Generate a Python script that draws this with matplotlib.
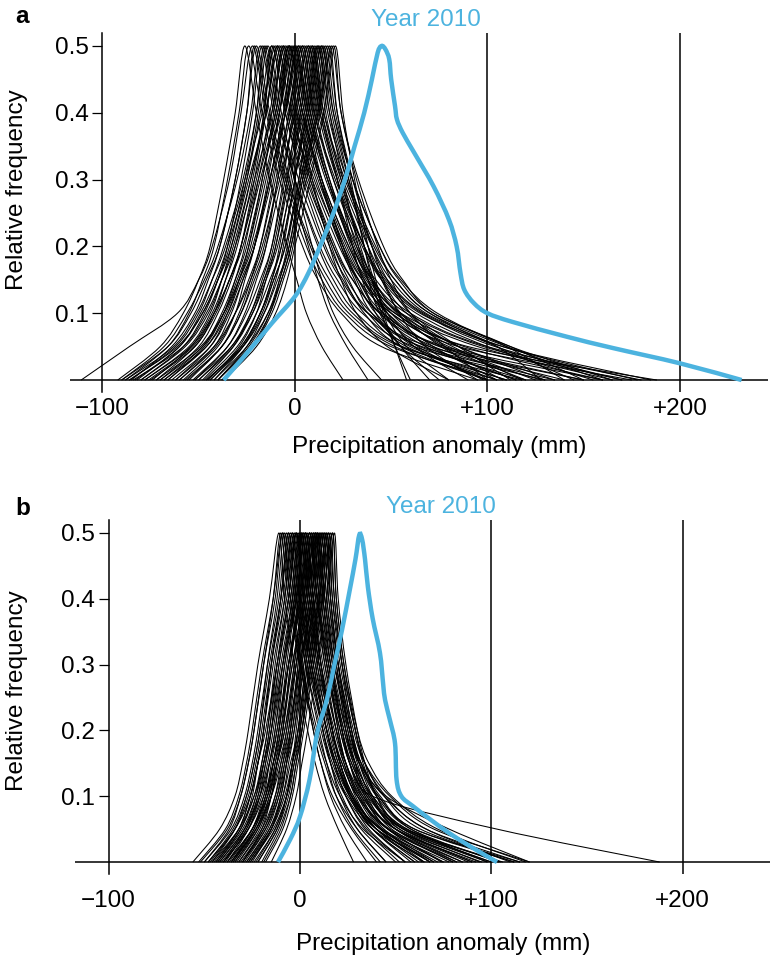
import matplotlib.pyplot as plt
from matplotlib.path import Path
from matplotlib.patches import PathPatch

plt.rcParams['font.family'] = ['Liberation Sans', 'DejaVu Sans']
plt.rcParams['font.size'] = 17.5

# relative frequency levels shared by every mountain curve
levels = [0, 0.05, 0.1, 0.15, 0.2, 0.3, 0.4, 0.5]

# panel a: left branch x at levels 0..0.5, right branch x at 0.4..0
a_left = [
    [-92, -70, -58, -50, -44, -37, -31, -26], [-88, -66, -55, -48, -42, -35, -29, -24],
    [-111, -86, -61, -50, -43, -34, -28, -22], [-85, -64, -52, -45, -39, -31, -25, -20],
    [-90, -68, -56, -47, -40, -30, -23, -18], [-80, -58, -47, -40, -35, -28, -22, -17],
    [-86, -62, -50, -43, -37, -27, -20, -15], [-78, -55, -44, -38, -33, -25, -19, -14],
    [-83, -60, -49, -41, -35, -25, -18, -12], [-75, -52, -42, -36, -31, -23, -16, -11],
    [-88, -63, -51, -43, -36, -26, -17, -10], [-70, -50, -40, -33, -28, -21, -15, -9],
    [-80, -57, -45, -38, -32, -23, -15, -8], [-72, -52, -41, -34, -28, -20, -13, -7],
    [-66, -47, -37, -31, -26, -19, -12, -6], [-84, -58, -46, -38, -31, -21, -12, -5],
    [-62, -44, -35, -29, -24, -17, -10, -4], [-76, -53, -42, -34, -28, -19, -10, -3],
    [-58, -40, -31, -26, -21, -14, -8, -2], [-70, -48, -37, -30, -24, -16, -8, -1],
    [-64, -44, -34, -27, -21, -13, -6, 0], [-55, -38, -29, -23, -18, -11, -5, 1],
    [-68, -46, -35, -28, -21, -12, -5, 2], [-52, -35, -26, -20, -15, -9, -3, 3],
    [-60, -41, -31, -24, -18, -10, -3, 4], [-48, -32, -23, -17, -12, -6, -1, 5],
    [-57, -38, -28, -21, -15, -7, 0, 6], [-45, -29, -20, -15, -10, -4, 1, 7],
    [-53, -35, -25, -18, -12, -5, 2, 8], [-42, -27, -18, -12, -8, -2, 3, 9],
    [-50, -33, -23, -16, -10, -3, 4, 10], [-40, -25, -16, -10, -6, 0, 5, 11],
    [-47, -30, -20, -13, -7, 0, 6, 12], [-38, -22, -13, -8, -4, 2, 7, 13],
    [-44, -27, -17, -11, -5, 2, 8, 14], [-40, -24, -14, -8, -3, 3, 9, 15],
    [-46, -28, -18, -11, -5, 3, 10, 16], [-38, -22, -12, -6, -1, 5, 12, 18],
    [-42, -25, -14, -7, -2, 6, 13, 19], [-37, -20, -10, -4, 0, 8, 15, 21],
    [-82, -60, -48, -40, -34, -26, -20, -16], [-74, -54, -43, -36, -30, -22, -16, -12],
    [-86, -61, -48, -40, -33, -24, -15, -9], [-68, -48, -38, -31, -25, -17, -11, -6],
    [-78, -54, -42, -34, -27, -18, -9, -3], [-60, -42, -33, -27, -21, -13, -6, 0],
    [-72, -49, -37, -29, -22, -13, -5, 2], [-56, -38, -28, -22, -16, -9, -2, 4],
    [-62, -42, -31, -23, -17, -8, 0, 7], [-50, -32, -22, -16, -11, -4, 3, 9],
    [-44, -28, -18, -12, -7, 0, 6, 12], [-52, -33, -22, -15, -9, -1, 7, 14],
    [-40, -23, -13, -7, -2, 4, 11, 17], [-46, -27, -16, -9, -3, 4, 12, 20],
    [-90, -66, -54, -46, -39, -31, -25, -21], [-66, -46, -36, -29, -23, -15, -8, -3],
]
a_right = [
    [-20, -13, -4, 1, 6, 14, 25], [-17, -8, 4, 12, 24, 45, 95],
    [-15, -6, 6, 14, 26, 50, 105], [-13, -4, 9, 18, 30, 55, 118],
    [-11, -3, 7, 12, 18, 27, 38], [-10, 0, 13, 22, 35, 62, 130],
    [-8, 2, 15, 24, 38, 70, 150], [-7, 0, 9, 14, 20, 30, 45],
    [-5, 5, 18, 27, 40, 65, 120], [-4, 6, 20, 30, 45, 78, 160],
    [-3, 7, 19, 26, 36, 55, 100], [-2, 9, 23, 33, 50, 85, 175],
    [-1, 8, 20, 28, 38, 58, 105], [0, 10, 25, 35, 52, 90, 188],
    [1, 9, 18, 24, 32, 48, 80], [2, 12, 26, 35, 48, 75, 140],
    [3, 13, 27, 36, 50, 80, 125], [4, 14, 28, 38, 55, 95, 165],
    [5, 13, 24, 31, 40, 60, 110], [6, 16, 30, 40, 58, 98, 170],
    [6, 14, 25, 32, 42, 62, 100], [7, 17, 32, 42, 60, 100, 180],
    [8, 18, 31, 40, 55, 85, 135], [9, 18, 30, 38, 48, 70, 115],
    [10, 20, 35, 45, 63, 100, 155], [11, 20, 33, 41, 53, 78, 120],
    [12, 22, 36, 46, 65, 105, 145], [13, 22, 32, 40, 50, 72, 105],
    [14, 24, 38, 48, 67, 108, 185], [14, 22, 30, 35, 42, 55, 75],
    [15, 25, 40, 50, 68, 105, 128], [16, 24, 34, 40, 48, 62, 90],
    [17, 27, 42, 52, 70, 110, 160], [18, 25, 33, 38, 44, 55, 70],
    [19, 28, 40, 48, 60, 85, 112], [20, 28, 36, 41, 47, 58, 80],
    [21, 30, 44, 54, 72, 112, 150], [22, 29, 36, 40, 45, 52, 60],
    [24, 32, 43, 50, 60, 78, 100], [25, 31, 38, 42, 46, 52, 58],
    [-9, 0, 12, 20, 32, 56, 110], [-5, 4, 16, 25, 38, 66, 135],
    [-2, 8, 21, 30, 44, 72, 128], [1, 11, 24, 33, 46, 76, 150],
    [4, 13, 25, 33, 44, 68, 115], [7, 17, 30, 39, 54, 88, 160],
    [8, 17, 29, 36, 46, 64, 98], [10, 21, 36, 47, 66, 104, 170],
    [13, 23, 36, 45, 58, 85, 130], [15, 26, 41, 52, 70, 108, 178],
    [18, 27, 38, 45, 55, 76, 108], [20, 30, 44, 55, 74, 112, 165],
    [22, 30, 40, 46, 54, 68, 95], [24, 33, 46, 56, 72, 110, 140],
    [-14, -5, 8, 16, 28, 52, 100], [4, 14, 28, 37, 52, 82, 118],
]
a_year_x = [-37, -25, -12, 0, 7, 13, 20, 26, 31, 36, 40, 43, 45, 47, 49, 50, 52, 53,
            56, 62, 72, 80, 84, 86, 88, 93, 100, 113, 141, 165, 200, 232]
a_year_y = [0, 0.04, 0.085, 0.125, 0.16, 0.2, 0.25, 0.3, 0.35, 0.4, 0.45, 0.49, 0.5, 0.495,
            0.48, 0.45, 0.41, 0.39, 0.37, 0.34, 0.29, 0.24, 0.2, 0.16, 0.135, 0.115, 0.1,
            0.087, 0.065, 0.048, 0.025, 0]

# panel b
b_left = [
    [-56, -42, -34, -30, -27, -22, -16, -11], [-50, -37, -31, -27, -24, -19, -14, -10],
    [-53, -39, -32, -28, -25, -20, -14, -9], [-46, -34, -28, -24, -21, -17, -12, -8],
    [-50, -36, -29, -25, -22, -17, -11, -7], [-43, -31, -25, -22, -19, -15, -10, -6],
    [-48, -35, -28, -24, -21, -16, -10, -5], [-40, -29, -23, -20, -17, -13, -8, -4],
    [-45, -32, -26, -22, -19, -14, -8, -3], [-38, -27, -21, -18, -15, -11, -6, -2],
    [-44, -31, -24, -20, -17, -12, -6, -1], [-36, -25, -19, -16, -13, -9, -4, 0],
    [-42, -29, -22, -18, -15, -10, -4, 1], [-34, -23, -17, -14, -11, -7, -2, 2],
    [-40, -27, -20, -16, -13, -8, -2, 3], [-32, -21, -15, -12, -9, -5, 0, 4],
    [-38, -25, -18, -14, -11, -6, 0, 5], [-30, -19, -13, -10, -7, -3, 1, 6],
    [-36, -24, -17, -13, -9, -4, 2, 7], [-28, -17, -11, -8, -5, -1, 3, 8],
    [-34, -22, -15, -11, -7, -2, 4, 9], [-26, -15, -9, -6, -3, 1, 5, 10],
    [-32, -20, -13, -9, -5, 0, 6, 11], [-24, -13, -7, -4, -1, 3, 7, 12],
    [-30, -18, -11, -7, -3, 2, 8, 13], [-22, -12, -6, -3, 0, 4, 9, 14],
    [-28, -16, -9, -5, -1, 4, 10, 15], [-20, -11, -5, -2, 1, 6, 11, 16],
    [-26, -14, -7, -3, 1, 6, 12, 17], [-15, -7, -2, 1, 4, 9, 14, 18],
    [-48, -34, -26, -22, -18, -12, -6, -2], [-30, -20, -15, -12, -9, -5, -1, 1],
    [-46, -32, -24, -19, -15, -9, -2, 3], [-25, -15, -10, -7, -5, -1, 2, 6],
    [-40, -27, -19, -14, -10, -4, 3, 8], [-22, -12, -7, -4, -2, 2, 6, 10],
    [-36, -23, -15, -10, -6, 0, 7, 12], [-19, -10, -5, -2, 1, 5, 10, 14],
    [-42, -29, -21, -16, -12, -6, 1, 5], [-38, -25, -17, -12, -8, -2, 5, 9],
    [-52, -38, -31, -27, -24, -19, -13, -9], [-44, -32, -26, -22, -19, -15, -10, -6],
    [-47, -34, -27, -23, -20, -15, -9, -4], [-39, -28, -22, -19, -16, -12, -7, -2],
    [-43, -30, -23, -19, -16, -11, -5, 0], [-35, -24, -18, -15, -12, -8, -3, 1],
    [-41, -28, -21, -17, -14, -9, -3, 2], [-33, -22, -16, -13, -10, -6, -1, 3],
    [-37, -25, -18, -14, -11, -6, 0, 5], [-29, -18, -12, -9, -6, -2, 2, 7],
    [-35, -23, -16, -12, -8, -3, 3, 8], [-27, -16, -10, -7, -4, 0, 4, 9],
    [-31, -19, -12, -8, -4, 1, 6, 11], [-23, -13, -7, -4, -1, 3, 8, 13],
    [-27, -15, -8, -4, 0, 5, 10, 15], [-18, -9, -4, -1, 2, 7, 12, 17],
]
b_right = [
    [-8, -3, 4, 8, 13, 20, 28], [-6, 0, 8, 13, 19, 30, 45],
    [-5, 1, 9, 14, 21, 33, 55], [-4, 1, 7, 11, 16, 24, 35],
    [-3, 3, 11, 16, 24, 38, 65], [-2, 3, 10, 14, 19, 28, 42],
    [-1, 5, 13, 18, 26, 40, 70], [0, 5, 12, 16, 22, 32, 50],
    [1, 6, 14, 19, 27, 42, 75], [2, 6, 12, 16, 21, 30, 45],
    [3, 8, 16, 22, 30, 46, 80], [4, 8, 14, 18, 24, 34, 52],
    [5, 10, 18, 23, 31, 47, 85], [6, 10, 16, 20, 26, 36, 55],
    [7, 12, 19, 24, 32, 50, 90], [7, 11, 17, 21, 27, 38, 60],
    [8, 13, 21, 26, 35, 54, 100], [9, 13, 19, 23, 29, 40, 62],
    [10, 15, 22, 27, 36, 52, 95], [11, 15, 20, 24, 30, 42, 65],
    [12, 16, 23, 28, 37, 55, 105], [13, 17, 22, 26, 32, 44, 70],
    [14, 18, 25, 31, 44, 66, 110], [15, 19, 24, 28, 34, 46, 75],
    [16, 20, 27, 32, 42, 60, 115], [16, 20, 25, 29, 35, 48, 80],
    [17, 21, 28, 34, 47, 70, 120], [18, 22, 27, 31, 38, 50, 85],
    [19, 23, 30, 36, 48, 72, 118], [20, 24, 30, 34, 40, 52, 90],
    [2, 7, 14, 19, 26, 38, 60], [5, 9, 15, 20, 27, 40, 68],
    [7, 11, 17, 21, 28, 42, 72], [9, 14, 21, 26, 34, 50, 88],
    [11, 16, 24, 29, 38, 56, 100], [13, 18, 26, 31, 40, 58, 104],
    [15, 20, 27, 32, 41, 58, 98], [17, 22, 29, 34, 44, 63, 112],
    [9, 15, 23, 29, 38, 103, 188], [13, 18, 26, 32, 45, 78, 120],
    [-5, 0, 7, 11, 17, 27, 40], [-2, 4, 12, 17, 25, 40, 68],
    [0, 6, 14, 19, 27, 43, 78], [2, 7, 14, 18, 24, 35, 55],
    [4, 9, 17, 22, 30, 46, 82], [5, 10, 17, 21, 28, 40, 64],
    [6, 11, 19, 24, 33, 50, 92], [7, 11, 17, 21, 27, 38, 58],
    [9, 14, 22, 27, 36, 54, 98], [10, 14, 20, 24, 31, 43, 68],
    [12, 17, 24, 29, 38, 56, 106], [12, 16, 22, 26, 33, 46, 74],
    [14, 19, 26, 31, 41, 60, 112], [16, 20, 26, 30, 37, 50, 82],
    [18, 22, 29, 34, 45, 66, 115], [19, 23, 29, 33, 40, 54, 94],
]
b_year_x = [-11.5, -5, 0, 5, 9, 14, 18, 22, 26, 29, 31, 32.5, 34, 35.5, 38, 41.8, 43.5,
            44.5, 47, 49.7, 50.5, 53, 59, 68, 78, 90, 103]
b_year_y = [0, 0.035, 0.069, 0.125, 0.196, 0.246, 0.3, 0.353, 0.413, 0.46, 0.497, 0.49,
            0.46, 0.418, 0.37, 0.318, 0.27, 0.246, 0.216, 0.18, 0.125, 0.1, 0.085, 0.065,
            0.044, 0.022, 0]

xtick_vals = [-100, 0, 100, 200]
xtick_text = ['\u2212100', '0', '+100', '+200']
ytick_vals = [0.1, 0.2, 0.3, 0.4, 0.5]
blue = '#4cb3df'

fig = plt.figure(figsize=(7.7, 9.6), dpi=100)
ax_a = fig.add_axes([70 / 770, (960 - 393.4) / 960, 698 / 770, 360.8 / 960])
ax_b = fig.add_axes([75 / 770, (960 - 875.2) / 960, 695 / 770, 355.4 / 960])


def smooth_path(xs, ys):
    # catmull-rom style bezier that passes through every read point
    pts = list(zip(xs, ys))
    n = len(pts)
    verts = [pts[0]]
    codes = [Path.MOVETO]
    for i in range(n - 1):
        p0 = pts[max(i - 1, 0)]
        p1 = pts[i]
        p2 = pts[i + 1]
        p3 = pts[min(i + 2, n - 1)]
        c1 = (p1[0] + (p2[0] - p0[0]) / 6, p1[1] + (p2[1] - p0[1]) / 6)
        c2 = (p2[0] - (p3[0] - p1[0]) / 6, p2[1] - (p3[1] - p1[1]) / 6)
        verts += [c1, c2, p2]
        codes += [Path.CURVE4] * 3
    return Path(verts, codes)


def draw(ax, left, right, yx, yy, xlim, tick_y, label_y):
    for lx, rx in zip(left, right):
        p = smooth_path(list(lx) + list(rx), levels + levels[-2::-1])
        ax.add_patch(PathPatch(p, fill=False, edgecolor='black', lw=0.75))
    ax.add_patch(PathPatch(smooth_path(yx, yy), fill=False, edgecolor=blue,
                           lw=3.2, capstyle='butt', zorder=5))
    ax.vlines([0, 100, 200], -0.018, 0.519, color='black', lw=1.1)
    ax.axhline(0, color='black', lw=1.1)
    ax.set_xlim(*xlim)
    ax.set_ylim(-0.02, 0.52)
    for s in ['top', 'right', 'bottom']:
        ax.spines[s].set_visible(False)
    ax.spines['left'].set_position(('data', -100))
    ax.spines['left'].set_bounds(-0.018, 0.519)
    ax.spines['left'].set_linewidth(1.1)
    ax.set_yticks(ytick_vals)
    ax.set_yticklabels(['%.1f' % v for v in ytick_vals])
    ax.tick_params(axis='y', direction='out', length=7, width=0.9, pad=3)
    ax.set_xticks([])
    tr = ax.get_xaxis_transform()
    for v, t in zip(xtick_vals, xtick_text):
        ax.text(v, tick_y, t, transform=tr, ha='center', va='center')
    ax.text(75, label_y, 'Precipitation anomaly (mm)', transform=tr,
            ha='center', va='center')


draw(ax_a, a_left, a_right, a_year_x, a_year_y, (-116.8, 245.7), -0.0446, -0.1486)
draw(ax_b, b_left, b_right, b_year_x, b_year_y, (-117.6, 245.7), -0.074, -0.1936)

fig.text(15 / 770, 1 - 23 / 960, 'a', weight='bold', va='baseline')
fig.text(15 / 770, 1 - 515 / 960, 'b', weight='bold', va='baseline')
fig.text(426 / 770, 1 - 26 / 960, 'Year 2010', color=blue, ha='center', va='baseline')
fig.text(441 / 770, 1 - 513 / 960, 'Year 2010', color=blue, ha='center', va='baseline')
fig.text(17 / 770, 1 - 190 / 960, 'Relative frequency', rotation=90, ha='center', va='center')
fig.text(17 / 770, 1 - 691 / 960, 'Relative frequency', rotation=90, ha='center', va='center')

fig.savefig('out.png', dpi=100)
